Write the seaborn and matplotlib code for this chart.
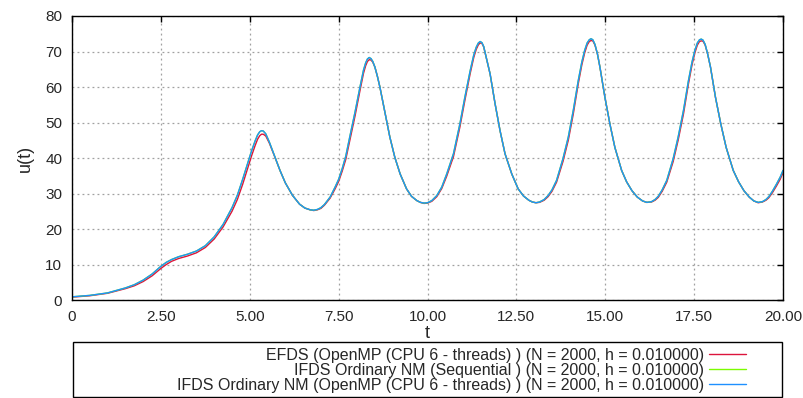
"""u(t) for EFDS / IFDS runs, gnuplot-like look."""
import matplotlib
matplotlib.use("Agg")
import matplotlib.pyplot as plt
import pandas as pd
import seaborn as sns
from matplotlib.patches import Rectangle

# values (one line per stretch of the curve)
t_vals = [
    0.0, 0.5, 1.0, 1.5, 1.75, 2.0, 2.25, 2.5, 2.65, 2.8, 3.0, 3.25, 3.5, 3.75, 4.0, 4.25, 4.5,
    4.65, 4.8, 4.95, 5.05, 5.15, 5.22, 5.28, 5.33, 5.38, 5.45, 5.55, 5.7, 5.85, 6.0, 6.2, 6.4,
    6.55, 6.7, 6.8, 6.9, 7.0, 7.1, 7.26, 7.4, 7.5, 7.6, 7.7,
    7.82, 7.96, 8.1, 8.2, 8.26, 8.31, 8.36, 8.41, 8.46, 8.52, 8.59, 8.66, 8.8, 8.94, 9.08, 9.23, 9.41,
    9.55, 9.7, 9.8, 9.9, 10.0, 10.12, 10.26, 10.4, 10.54,
    10.73, 10.91, 11.05, 11.2, 11.3, 11.37, 11.43, 11.48, 11.53, 11.58, 11.64, 11.76, 11.9, 12.04, 12.18, 12.37, 12.55,
    12.7, 12.85, 12.95, 13.05, 13.15, 13.28, 13.39, 13.5, 13.63,
    13.81, 13.96, 14.1, 14.24, 14.34, 14.42, 14.49, 14.55, 14.6, 14.65, 14.71, 14.78, 14.85, 14.99, 15.13, 15.27, 15.46,
    15.6, 15.75, 15.9, 16.05, 16.17, 16.3, 16.4, 16.49, 16.6, 16.73,
    16.91, 17.05, 17.2, 17.34, 17.44, 17.52, 17.59, 17.65, 17.7, 17.75, 17.81, 17.88, 17.96, 18.1, 18.25, 18.4, 18.6,
    18.75, 18.9, 19.05, 19.18, 19.3, 19.42, 19.52, 19.6, 19.7, 19.82, 19.92, 20.0,
]

u_ifds_omp = [
    0.9, 1.3, 2.0, 3.4, 4.3, 5.6, 7.3, 9.5, 10.6, 11.4, 12.2, 12.9, 13.8, 15.3, 17.8, 21.3, 26.0,
    29.5, 34.0, 38.8, 42.0, 44.8, 46.5, 47.4, 47.7, 47.6, 46.8, 44.5, 40.5, 36.5, 33.0, 29.5, 27.0,
    25.9, 25.4, 25.3, 25.5, 26.0, 26.9, 29.0, 31.8, 34.0, 37.0, 40.5,
    46.3, 52.9, 60.0, 64.8, 66.8, 67.9, 68.3, 68.0, 67.2, 65.6, 63.0, 60.0, 52.9, 45.9, 40.2, 35.5, 31.3,
    29.2, 28.0, 27.5, 27.3, 27.4, 28.0, 29.4, 31.8, 35.5,
    41.2, 49.6, 57.1, 64.6, 69.0, 71.2, 72.4, 72.8, 72.5, 71.4, 68.8, 63.7, 55.3, 47.7, 41.2, 35.5, 31.3,
    29.3, 28.1, 27.6, 27.4, 27.6, 28.3, 29.4, 31.0, 33.7,
    39.8, 45.9, 53.4, 61.8, 67.0, 70.3, 72.4, 73.3, 73.6, 73.3, 72.0, 69.3, 65.6, 57.1, 49.6, 43.0, 36.5,
    33.3, 30.8, 29.0, 27.9, 27.5, 27.7, 28.3, 29.2, 31.0, 33.7,
    39.8, 45.9, 53.4, 61.8, 67.0, 70.3, 72.4, 73.3, 73.5, 73.2, 72.0, 69.3, 65.6, 57.1, 49.6, 43.0, 36.5,
    33.3, 30.8, 29.0, 27.9, 27.5, 27.7, 28.3, 29.1, 30.6, 32.7, 34.6, 36.5,
]

# the sequential run sits under the OpenMP one
u_ifds_seq = list(u_ifds_omp)

u_efds = [
    0.8, 1.2, 1.9, 3.2, 4.0, 5.2, 6.8, 8.9, 10.0, 10.9, 11.7, 12.4, 13.3, 14.8, 17.2, 20.6, 25.0,
    28.3, 32.6, 37.4, 40.6, 43.5, 45.3, 46.3, 46.7, 46.7, 46.2, 44.2, 40.4, 36.5, 33.0, 29.5, 27.0,
    25.9, 25.4, 25.2, 25.4, 25.8, 26.7, 28.7, 31.3, 33.4, 36.3, 39.6,
    45.3, 51.8, 59.0, 63.9, 66.0, 67.2, 67.7, 67.6, 67.0, 65.6, 63.0, 60.0, 52.9, 45.9, 40.2, 35.5, 31.3,
    29.2, 28.0, 27.5, 27.2, 27.3, 27.8, 29.1, 31.4, 34.9,
    40.4, 48.7, 56.2, 63.8, 68.3, 70.6, 71.9, 72.4, 72.3, 71.3, 68.8, 63.7, 55.3, 47.7, 41.2, 35.5, 31.3,
    29.3, 28.1, 27.6, 27.4, 27.5, 28.1, 29.1, 30.6, 33.2,
    39.0, 45.0, 52.4, 60.9, 66.2, 69.6, 71.8, 72.8, 73.1, 73.0, 71.8, 69.3, 65.6, 57.1, 49.6, 43.0, 36.5,
    33.3, 30.8, 29.0, 27.9, 27.5, 27.6, 28.1, 28.9, 30.6, 33.2,
    39.0, 45.0, 52.4, 60.9, 66.2, 69.6, 71.8, 72.8, 73.0, 72.9, 71.8, 69.3, 65.6, 57.1, 49.6, 43.0, 36.5,
    33.3, 30.8, 29.0, 27.9, 27.4, 27.6, 28.1, 28.8, 30.2, 32.2, 34.0, 35.9,
]

labels = [
    "EFDS (OpenMP (CPU 6 - threads) ) (N = 2000, h = 0.010000)",
    "IFDS Ordinary NM (Sequential ) (N = 2000, h = 0.010000)",
    "IFDS Ordinary NM (OpenMP (CPU 6 - threads) ) (N = 2000, h = 0.010000)",
]
colors = ["#dc143c", "#7cfc00", "#1e90ff"]

x_ticks = [0, 2.5, 5, 7.5, 10, 12.5, 15, 17.5, 20]
x_ticklabels = ["0", "2.50", "5.00", "7.50", "10.00", "12.50", "15.00", "17.50", "20.00"]
y_ticks = [0, 10, 20, 30, 40, 50, 60, 70, 80]


def main():
    assert len(t_vals) == len(u_ifds_omp) == len(u_efds)

    sns.set_theme(style="white")
    plt.rcParams["font.family"] = ["Liberation Sans", "DejaVu Sans"]

    fig = plt.figure(figsize=(8.04, 3.98), dpi=100)
    ax = fig.add_axes([0.0896, 0.2462, 0.8843, 0.7136])

    series = [u_efds, u_ifds_seq, u_ifds_omp]
    for vals, lab, col in zip(series, labels, colors):
        df = pd.DataFrame({"t": t_vals, "u": vals})
        sns.lineplot(data=df, x="t", y="u", ax=ax, color=col, lw=1.0,
                     label=lab, sort=False, estimator=None)

    ax.set_xlim(0, 20)
    ax.set_ylim(0, 80)
    ax.set_xticks(x_ticks)
    ax.set_xticklabels(x_ticklabels)
    ax.set_yticks(y_ticks)
    ax.tick_params(direction="in", length=4, width=1, color="black",
                   top=True, right=True, labelsize=11, pad=7)
    ax.grid(True, color="#a0a0a0", lw=0.9, ls=(0, (1.5, 2.5)))
    for sp in ax.spines.values():
        sp.set_color("black")
        sp.set_linewidth(1.0)

    ax.set_xlabel("t", fontsize=13, labelpad=1)
    ax.set_ylabel("u(t)", fontsize=13, labelpad=8)

    # key box spans the plot width, entries sit at its right end (gnuplot style)
    fig.patches.append(Rectangle((73 / 804, 1 / 398), 709 / 804, 55 / 398,
                                 transform=fig.transFigure, fill=False,
                                 ec="black", lw=1.0))
    ax.legend(loc="center right", bbox_to_anchor=(746 / 804, 1 - 370.5 / 398),
              bbox_transform=fig.transFigure, markerfirst=False,
              fontsize=11.5, frameon=False, handlelength=2.3,
              handletextpad=0.35, labelspacing=0.0, borderpad=0,
              borderaxespad=0)

    fig.savefig("out.png", dpi=100)
    plt.close(fig)


if __name__ == "__main__":
    main()
